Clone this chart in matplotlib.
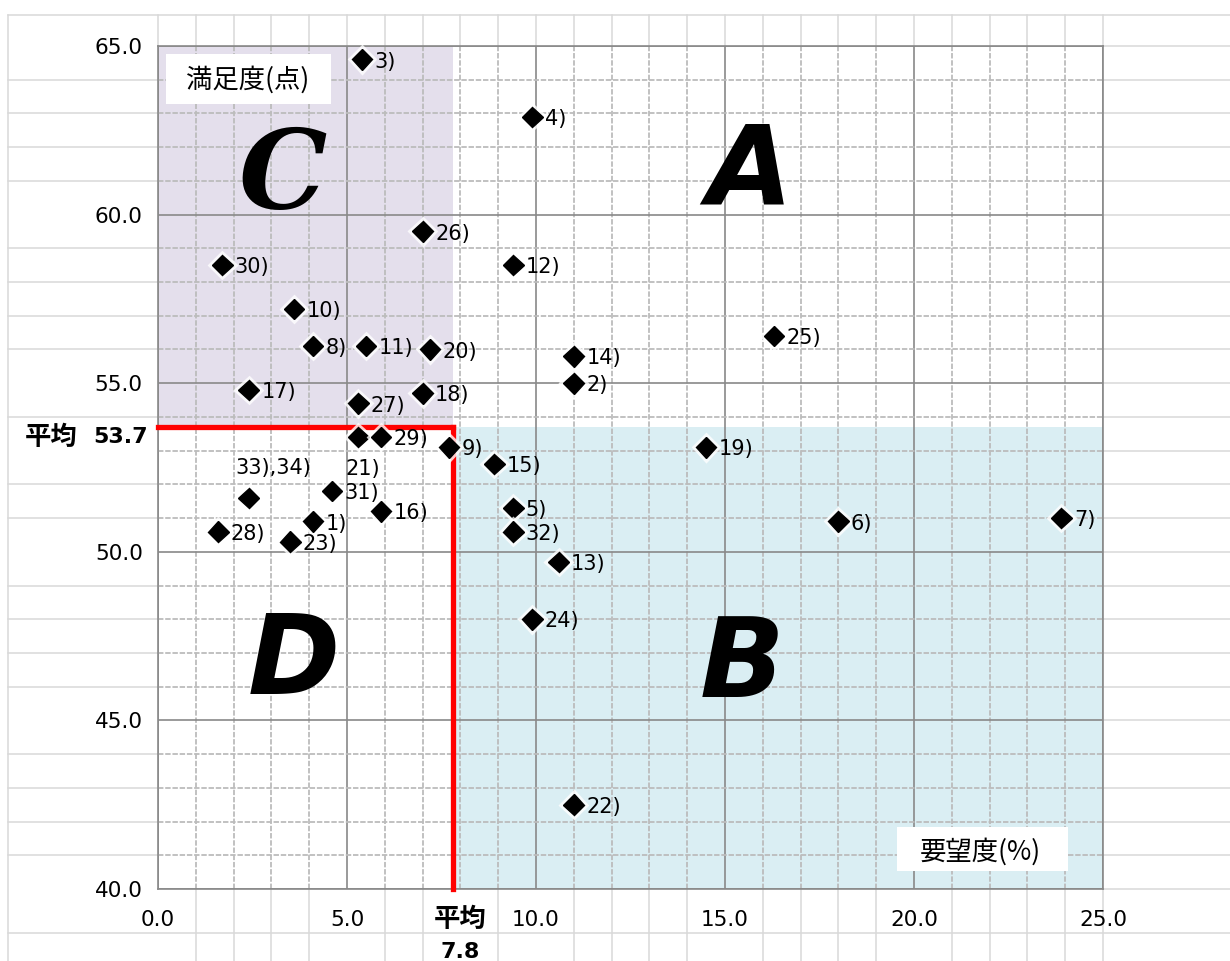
import matplotlib
matplotlib.use("Agg")
import matplotlib.pyplot as plt
import matplotlib.patheffects as pe
from matplotlib.patches import Rectangle
from matplotlib.ticker import MultipleLocator, FormatStrFormatter

plt.rcParams['font.family'] = ['DejaVu Sans', 'Noto Sans CJK JP']
CJK = ['Noto Sans CJK JP', 'DejaVu Sans']

# data: demand (%) vs satisfaction (points)
labels = ['1)', '2)', '3)', '4)', '5)', '6)', '7)', '8)', '9)', '10)',
          '11)', '12)', '13)', '14)', '15)', '16)', '17)', '18)', '19)', '20)',
          '21)', '22)', '23)', '24)', '25)', '26)', '27)', '28)', '29)', '30)',
          '31)', '32)', '33),34)']
demand = [4.1, 11.0, 5.4, 9.9, 9.4, 18.0, 23.9, 4.1, 7.7, 3.6,
          5.5, 9.4, 10.6, 11.0, 8.9, 5.9, 2.4, 7.0, 14.5, 7.2,
          5.3, 11.0, 3.5, 9.9, 16.3, 7.0, 5.3, 1.6, 5.9, 1.7,
          4.6, 9.4, 2.4]
satisfaction = [50.9, 55.0, 64.6, 62.9, 51.3, 50.9, 51.0, 56.1, 53.1, 57.2,
                56.1, 58.5, 49.7, 55.8, 52.6, 51.2, 54.8, 54.7, 53.1, 56.0,
                53.4, 42.5, 50.3, 48.0, 56.4, 59.5, 54.4, 50.6, 53.4, 58.5,
                51.8, 50.6, 51.6]
avg_demand = 7.8
avg_satisfaction = 53.7

x_ticks = [0, 5, 10, 15, 20, 25]
y_ticks = [40, 45, 50, 55, 60, 65]

quadrants = ['A', 'B', 'C', 'D']
quad_pos = {'A': (15.65, 61.2), 'B': (15.45, 46.6), 'C': (3.3, 61.1), 'D': (3.6, 46.7)}

# label offsets (points) - most labels sit right of the marker
label_offset = {'21)': (-9.5, -23), '33),34)': (-9.6, 21.5)}

fig = plt.figure(figsize=(12.3, 9.61), dpi=100)
ax = fig.add_axes([158/1230, 72/961, 945/1230, 843/961])
ax.set_xlim(0, 25)
ax.set_ylim(40, 65)

# spreadsheet-like background grid outside the chart
sheet = dict(color='#d9d9d9', lw=1.1, clip_on=False, zorder=0)
xl, xr, yt, yb, yrow = -3.97, 28.6, 65.92, 37.8, 38.7
ax.plot([xl, xr], [yt, yt], **sheet)
ax.plot([xl, xr], [yrow, yrow], **sheet)
ax.plot([xl, xl], [yt, yb], **sheet)
for y in range(40, 66):
    ax.plot([25, xr], [y, y], **sheet)
    if y % 5 != 0 and y != 53:
        ax.plot([xl, 0], [y, y], **sheet)
for x in range(0, 26):
    ax.plot([x, x], [65, yt], **sheet)
    if x % 5 != 0 and x != 8 or x == 25:
        ax.plot([x, x], [40, yb], **sheet)

# quadrant shading
ax.add_patch(Rectangle((0, avg_satisfaction), avg_demand, 65 - avg_satisfaction,
                       facecolor='#e4dfec', edgecolor='none', zorder=0.2))
ax.add_patch(Rectangle((avg_demand, 40), 25 - avg_demand, avg_satisfaction - 40,
                       facecolor='#daeef3', edgecolor='none', zorder=0.2))

ax.xaxis.set_major_locator(MultipleLocator(5))
ax.yaxis.set_major_locator(MultipleLocator(5))
ax.xaxis.set_minor_locator(MultipleLocator(1))
ax.yaxis.set_minor_locator(MultipleLocator(1))
ax.set_axisbelow(True)
ax.grid(which='minor', color='#bcbcbc', lw=1.3, ls=(0, (3, 1)))
ax.grid(which='major', color='#898989', lw=1.2, ls='-')
ax.set_xticks(x_ticks)
ax.set_yticks(y_ticks)
ax.xaxis.set_major_formatter(FormatStrFormatter('%.1f'))
ax.yaxis.set_major_formatter(FormatStrFormatter('%.1f'))
ax.tick_params(which='both', length=0, labelsize=15.5)
ax.tick_params(axis='y', pad=11)
ax.tick_params(axis='x', pad=15)
for s in ax.spines.values():
    s.set_color('#898989')
    s.set_linewidth(1.2)

# average lines
ax.plot([0, avg_demand], [avg_satisfaction, avg_satisfaction], color='red', lw=3.8,
        zorder=3, clip_on=False, solid_capstyle='projecting')
ax.plot([avg_demand, avg_demand], [avg_satisfaction, 40], color='red', lw=3.8,
        zorder=3, clip_on=False, solid_capstyle='projecting')

# big quadrant letters
for q in quadrants:
    ax.text(quad_pos[q][0], quad_pos[q][1], q, fontsize=80, fontweight='bold',
            style='italic', family='DejaVu Sans' if q != 'C' else 'DejaVu Serif',
            ha='center', va='center', zorder=2)

# points
ax.plot(demand, satisfaction, ls='none', marker='D', ms=10.5, color='black',
        zorder=5, clip_on=False,
        path_effects=[pe.withStroke(linewidth=5, foreground='white', alpha=0.8)])
for lab, x, y in zip(labels, demand, satisfaction):
    off = label_offset.get(lab, (9, -1.5))
    ax.annotate(lab, (x, y), xytext=off, textcoords='offset points',
                ha='left', va='center', fontsize=15, zorder=6)

# axis captions on white boxes
ax.add_patch(Rectangle((0.21, 63.28), 4.37, 1.48, facecolor='white',
                       edgecolor='none', zorder=4))
ax.text(2.38, 64.0, '満足度(点)', fontsize=19, family=CJK,
        ha='center', va='center', zorder=4.5)
ax.add_patch(Rectangle((19.55, 40.53), 4.52, 1.31, facecolor='white',
                       edgecolor='none', zorder=4))
ax.text(21.75, 41.1, '要望度(%)', fontsize=19, family=CJK,
        ha='center', va='center', zorder=4.5)

# average labels
ax.text(-0.26, avg_satisfaction - 0.3, '%.1f' % avg_satisfaction, fontsize=16,
        fontweight='bold', ha='right', va='center', clip_on=False)
ax.text(-2.13, avg_satisfaction - 0.3, '平均', fontsize=19, family=CJK,
        fontweight='bold', ha='right', va='center', clip_on=False)
ax.text(avg_demand + 0.2, 39.11, '平均', fontsize=19, family=CJK, fontweight='bold',
        ha='center', va='center', clip_on=False)
ax.text(avg_demand + 0.2, 38.13, '%.1f' % avg_demand, fontsize=16, fontweight='bold',
        ha='center', va='center', clip_on=False)

fig.savefig('out.png', dpi=100, facecolor='white')
